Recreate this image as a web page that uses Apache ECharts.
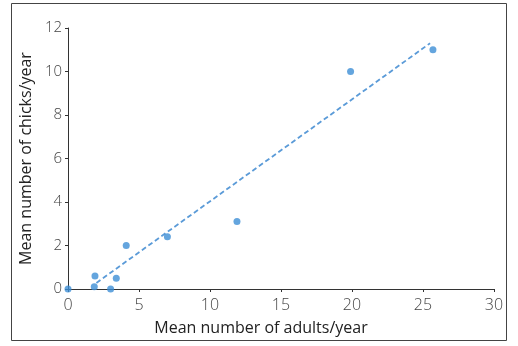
<!DOCTYPE html>
<html>
<head>
<meta charset="utf-8">
<script src="https://cdn.jsdelivr.net/npm/echarts@6/dist/echarts.min.js"></script>
<style>
  html, body { margin: 0; padding: 0; background: #fff; }
  #chart { width: 518px; height: 346px; }
</style>
</head>
<body>
<div id="chart"></div>
<script>
// Mean adults per year (x) and mean chicks per year (y)
const adults = [0, 1.85, 1.9, 3.0, 3.4, 4.1, 7.0, 11.9, 19.9, 25.7];
const chicks = [0, 0.1, 0.6, 0, 0.5, 2.0, 2.4, 3.1, 10.0, 11.0];

// Fitted trend line endpoints
const trendX = [2.0, 25.5];
const trendY = [0.28, 11.3];

const xTicks = [0, 5, 10, 15, 20, 25, 30];
const yTicks = [0, 2, 4, 6, 8, 10, 12];

const font = '"Open Sans", "Noto Sans", sans-serif';

const chart = echarts.init(document.getElementById('chart'), null, { renderer: 'canvas' });
chart.setOption({
  animation: false,
  backgroundColor: '#fff',
  graphic: [{
    type: 'rect',
    shape: { x: 11.5, y: 3.5, width: 495, height: 337 },
    style: { fill: 'none', stroke: '#444', lineWidth: 1 },
    silent: true
  }],
  grid: { left: 68, right: 24, top: 28, bottom: 57, containLabel: false },
  xAxis: {
    type: 'value',
    min: xTicks[0], max: xTicks[xTicks.length - 1], interval: 5,
    name: 'Mean number of adults/year',
    nameLocation: 'middle', nameGap: 31,
    nameTextStyle: { fontFamily: font, fontSize: 16, color: '#222', padding: [0, 40, 0, 0] },
    axisLine: { show: true, lineStyle: { color: '#333', width: 1 } },
    axisTick: { show: true, length: 3, lineStyle: { color: '#333' } },
    axisLabel: { fontFamily: font, fontSize: 16, color: '#444', margin: 8, fontWeight: 300 },
    splitLine: { show: false }
  },
  yAxis: {
    type: 'value',
    min: yTicks[0], max: yTicks[yTicks.length - 1], interval: 2,
    name: 'Mean number of chicks/year',
    nameLocation: 'middle', nameGap: 34,
    nameTextStyle: { fontFamily: font, fontSize: 16, color: '#222' },
    axisLine: { show: true, lineStyle: { color: '#333', width: 1 } },
    axisTick: { show: true, length: 3, lineStyle: { color: '#333' } },
    axisLabel: { fontFamily: font, fontSize: 15, color: '#444', margin: 6, fontWeight: 300 },
    splitLine: { show: false }
  },
  series: [
    {
      type: 'line',
      data: trendX.map((x, i) => [x, trendY[i]]),
      showSymbol: false,
      lineStyle: { color: '#5b9bd8', width: 1.8, type: [5, 3] },
      z: 2
    },
    {
      type: 'scatter',
      data: adults.map((x, i) => [x, chicks[i]]),
      symbolSize: 7,
      itemStyle: { color: '#3d8fd6' },
      z: 3
    }
  ]
});
</script>
</body>
</html>
